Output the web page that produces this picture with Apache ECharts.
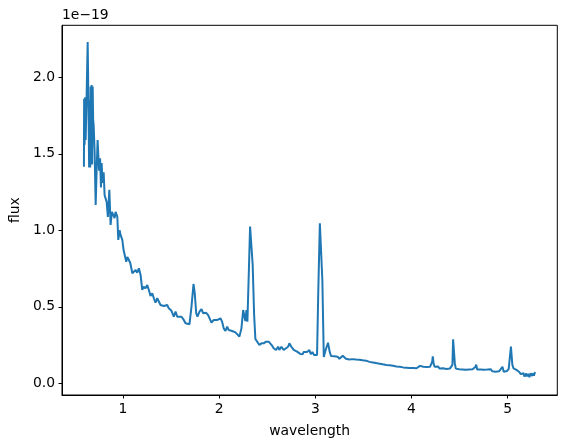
<!DOCTYPE html>
<html>
<head>
<meta charset="utf-8">
<script src="https://cdn.jsdelivr.net/npm/echarts@6/dist/echarts.min.js"></script>
<style>
html,body{margin:0;padding:0;background:#fff;}
#chart{width:567px;height:448px;}
</style>
</head>
<body>
<div id="chart"></div>
<script>
// wavelength (x) and flux (in units of 1e-19)
const wavelength = [
0.595,0.597,0.602,0.608,0.613,0.623,0.634,0.644,0.649,0.654,0.660,0.665,0.670,0.675,0.680,0.686,0.691,0.696,0.706,0.717,
0.727,0.737,0.748,0.753,0.763,0.772,0.779,0.789,0.800,0.810,0.831,0.844,0.859,0.872,0.886,0.903,0.914,0.924,0.942,0.952,
0.966,0.976,0.994,1.007,1.021,1.035,1.046,1.062,1.077,1.098,1.114,1.132,1.149,1.166,1.184,1.201,1.215,1.236,1.253,1.270,
1.287,1.305,1.322,1.339,1.357,1.374,1.391,1.409,1.426,1.443,1.461,1.477,1.505,1.529,1.547,1.565,1.581,1.609,1.633,1.651,
1.668,1.692,1.713,1.734,1.747,1.762,1.775,1.796,1.817,1.834,1.851,1.866,1.886,1.900,1.921,1.945,1.962,1.983,1.996,2.014,
2.032,2.048,2.066,2.084,2.100,2.118,2.135,2.152,2.170,2.187,2.211,2.232,2.250,2.263,2.273,2.284,2.294,2.308,2.322,2.336,
2.349,2.364,2.377,2.395,2.419,2.440,2.463,2.488,2.515,2.533,2.551,2.567,2.592,2.613,2.626,2.647,2.671,2.689,2.717,2.730,
2.751,2.775,2.792,2.810,2.827,2.844,2.868,2.879,2.896,2.914,2.927,2.938,2.953,2.969,2.987,3.000,3.018,3.031,3.047,3.062,
3.073,3.088,3.107,3.132,3.149,
3.163,3.180,3.198,3.215,3.232,3.250,3.268,3.285,3.300,3.318,3.335,3.352,3.370,3.388,3.405,3.422,3.440,3.458,3.475,3.492,
3.510,3.528,3.545,3.562,3.580,3.598,3.615,3.632,3.650,3.668,3.685,3.702,3.720,3.738,3.755,3.772,3.790,3.808,3.825,3.842,
3.860,3.878,3.895,3.912,3.930,3.948,3.965,3.982,4.000,4.018,4.035,4.052,4.070,4.088,4.105,4.122,4.140,4.158,4.175,4.192,
4.205,4.214,4.221,4.229,4.240,4.258,4.275,4.292,4.310,4.328,4.345,4.362,4.380,4.398,4.415,4.425,4.432,4.442,4.450,4.460,
4.478,4.495,4.512,4.530,4.548,4.565,4.582,4.600,4.618,4.635,4.652,4.665,4.672,4.682,4.700,4.718,4.735,4.752,4.770,4.788,
4.805,4.822,4.840,4.858,4.875,4.892,4.910,4.928,4.945,4.958,4.975,4.992,5.010,5.025,5.033,5.040,5.048,5.060,5.075,5.090,
5.105,5.120,5.135,5.150,5.162,5.175,5.188,5.200,5.212,5.225,5.238,5.250,5.262,5.272,5.283
];
const flux = [
1.416,1.86,1.56,1.87,1.59,1.88,2.23,1.72,1.41,1.85,1.41,1.94,1.46,1.95,1.43,1.94,1.72,1.69,1.52,1.165,
1.39,1.59,1.45,1.39,1.47,1.28,1.44,1.31,1.38,1.23,1.185,1.087,1.265,1.035,1.12,1.11,1.08,1.12,1.09,0.937,
1.00,0.97,0.937,0.871,0.871,0.795,0.825,0.806,0.786,0.719,0.708,0.740,0.723,0.752,0.708,0.610,0.631,0.621,0.642,0.610,
0.571,0.588,0.556,0.527,0.556,0.544,0.512,0.523,0.505,0.518,0.512,0.490,0.474,0.435,0.468,0.435,0.446,0.435,0.414,0.392,
0.392,0.386,0.501,0.649,0.588,0.458,0.435,0.468,0.484,0.458,0.446,0.461,0.446,0.458,0.396,0.414,0.425,0.414,0.407,0.425,
0.401,0.359,0.342,0.370,0.348,0.359,0.342,0.348,0.333,0.337,0.305,0.359,0.479,0.468,0.407,0.479,0.403,0.708,1.024,1.035,
0.773,0.446,0.290,0.283,0.250,0.261,0.261,0.272,0.272,0.261,0.246,0.229,0.218,0.239,0.218,0.239,0.218,0.207,0.239,0.261,
0.239,0.218,0.224,0.207,0.207,0.192,0.190,0.205,0.218,0.205,0.198,0.218,0.190,0.205,0.185,0.178,0.185,0.610,1.046,1.035,
0.675,0.172,0.218,0.265,0.207,
0.178,0.168,0.176,0.166,0.174,0.160,0.172,0.180,0.168,0.160,0.166,0.156,0.164,0.158,0.166,0.156,0.162,0.154,0.164,0.150,
0.158,0.148,0.155,0.140,0.150,0.136,0.146,0.132,0.142,0.128,0.136,0.124,0.134,0.120,0.130,0.118,0.126,0.114,0.122,0.110,
0.118,0.108,0.116,0.104,0.112,0.102,0.110,0.100,0.108,0.100,0.110,0.098,0.106,0.114,0.102,0.108,0.098,0.106,0.100,0.108,
0.110,0.140,0.176,0.130,0.108,0.100,0.110,0.096,0.106,0.098,0.108,0.094,0.104,0.096,0.104,0.120,0.288,0.284,0.130,0.096,
0.104,0.092,0.100,0.090,0.098,0.088,0.100,0.090,0.098,0.092,0.100,0.108,0.122,0.090,0.082,0.090,0.078,0.088,0.080,0.090,
0.082,0.092,0.078,0.088,0.076,0.086,0.078,0.090,0.108,0.076,0.088,0.080,0.094,0.100,0.240,0.246,0.120,0.098,0.108,0.088,
0.090,0.074,0.060,0.050,0.066,0.044,0.064,0.046,0.062,0.040,0.066,0.048,0.064,0.050,0.074
];
const xTicks = [1, 2, 3, 4, 5];
const yTicks = [0, 0.5, 1.0, 1.5, 2.0];

const points = wavelength.map((w, i) => [w, flux[i]]);
const FONT = 'DejaVu Sans';
const chart = echarts.init(document.getElementById('chart'), null, {renderer: 'canvas'});
chart.setOption({
  animation: false,
  backgroundColor: '#ffffff',
  grid: {left: 61.3, right: 9.7, top: 25.3, bottom: 53, show: true, borderColor: '#000', borderWidth: 1, backgroundColor: 'transparent'},
  xAxis: {
    type: 'value', min: 0.367, max: 5.515,
    name: 'wavelength', nameLocation: 'middle', nameGap: 29,
    nameTextStyle: {fontFamily: FONT, fontSize: 13.9, color: '#000'},
    axisLine: {show: true, onZero: false, lineStyle: {color: '#000', width: 1}},
    axisTick: {show: true, inside: false, length: 3.5, lineStyle: {color: '#000', width: 1}, customValues: xTicks},
    axisLabel: {show: true, margin: 7, fontFamily: FONT, fontSize: 13.9, color: '#000', customValues: xTicks, formatter: v => String(Math.round(v))},
    splitLine: {show: false}
  },
  yAxis: {
    type: 'value', min: -0.0765, max: 2.34,
    name: 'flux', nameLocation: 'middle', nameGap: 37, nameRotate: 90,
    nameTextStyle: {fontFamily: FONT, fontSize: 13.9, color: '#000'},
    axisLine: {show: true, onZero: false, lineStyle: {color: '#000', width: 1}},
    axisTick: {show: true, inside: false, length: 3.5, lineStyle: {color: '#000', width: 1}, customValues: yTicks},
    axisLabel: {show: true, margin: 7, fontFamily: FONT, fontSize: 13.9, color: '#000', customValues: yTicks, formatter: v => v.toFixed(1)},
    splitLine: {show: false}
  },
  graphic: [{
    type: 'text', left: 62, top: 8,
    style: {text: '1e\u221219', font: '13.9px "DejaVu Sans"', fill: '#000'}
  }],
  series: [{
    type: 'line', data: points, showSymbol: false, symbol: 'none',
    lineStyle: {color: '#1f77b4', width: 2}, smooth: false
  }]
});
</script>
</body>
</html>
